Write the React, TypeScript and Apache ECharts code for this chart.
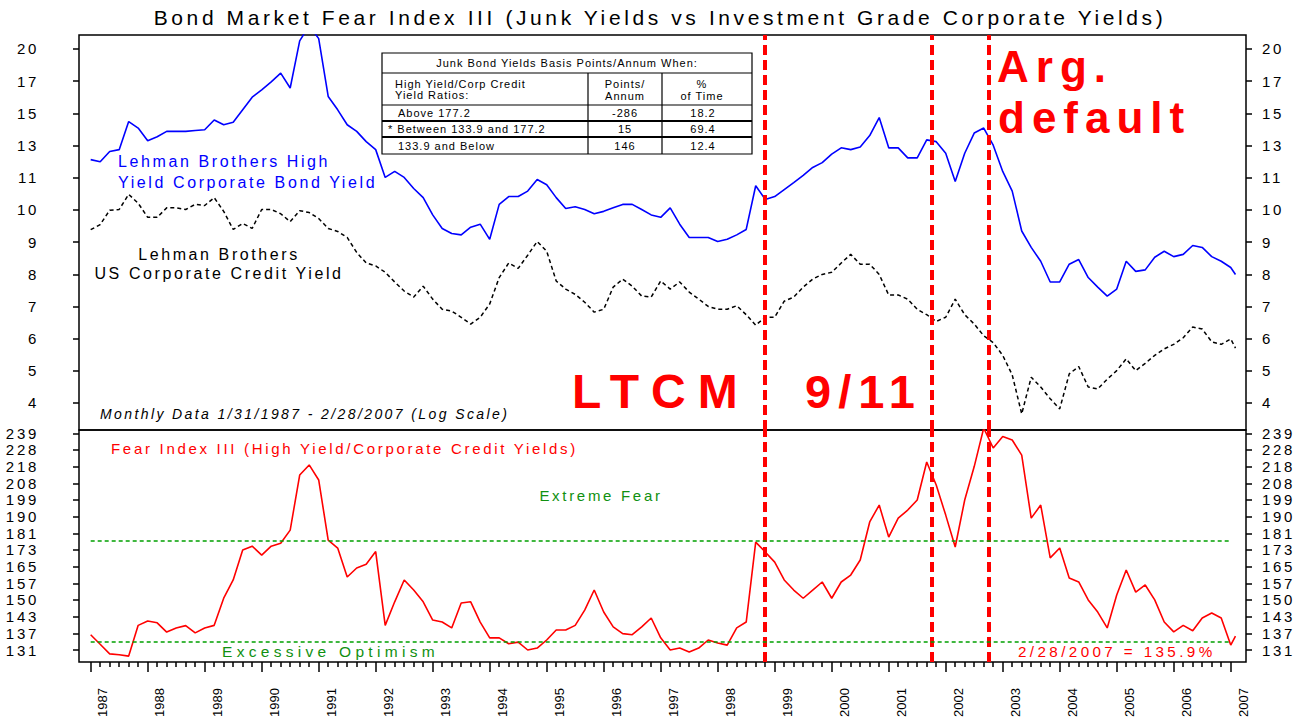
import React, { useEffect, useRef } from 'react';
import * as echarts from 'echarts';

const FONT = '"Liberation Sans", Arial, Helvetica, sans-serif';

// month-end samples (every second month) from Jan 1987 to Feb 2007
const dates: string[] = [];
for (let y = 1987; y <= 2006; y++) for (let mo = 1; mo <= 11; mo += 2) dates.push(`${y}-${String(mo).padStart(2, '0')}`);
dates.push('2007-01', '2007-02');

// Lehman Brothers High Yield Corporate Bond Yield (%)
const highYield = [
  12.41, 12.3, 12.85, 12.95, 14.6, 14.2,
  13.45, 13.68, 14.0, 14.0, 14.0, 14.05,
  14.1, 14.7, 14.4, 14.55, 15.35, 16.2,
  16.72, 17.3, 17.95, 16.85, 20.6, 22.0,
  20.8, 16.25, 15.35, 14.4, 14.0, 13.4,
  12.95, 11.5, 11.8, 11.5, 10.97, 10.55,
  9.8, 9.25, 9.05, 9.0, 9.3, 9.42,
  8.83, 10.25, 10.6, 10.6, 10.85, 11.4,
  11.15, 10.55, 10.07, 10.15, 10.03, 9.85,
  9.95, 10.1, 10.25, 10.25, 10.03, 9.8,
  9.7, 10.1, 9.42, 8.9, 8.9, 8.9,
  8.75, 8.83, 9.0, 9.21, 11.1, 10.47,
  10.6, 10.92, 11.25, 11.6, 12.0, 12.25,
  12.7, 13.05, 12.95, 13.1, 13.75, 14.85,
  13.05, 13.05, 12.5, 12.5, 13.5, 13.4,
  12.75, 11.3, 12.75, 13.9, 14.2, 13.2,
  11.8, 10.85, 9.15, 8.53, 8.04, 7.36,
  7.36, 7.94, 8.1, 7.5, 7.2, 6.93,
  7.14, 8.04, 7.7, 7.75, 8.18, 8.39,
  8.2, 8.28, 8.6, 8.53, 8.2, 8.04,
  7.83, 7.6,
];

// Lehman Brothers US Corporate Credit Yield (%)
const creditYield = [
  9.2, 9.4, 10.0, 10.03, 10.7, 10.3,
  9.7, 9.7, 10.1, 10.1, 10.03, 10.25,
  10.2, 10.55, 9.95, 9.21, 9.45, 9.25,
  10.03, 10.03, 9.85, 9.52, 9.98, 9.9,
  9.65, 9.25, 9.13, 8.9, 8.35, 7.98,
  7.88, 7.67, 7.36, 7.08, 6.9, 7.23,
  6.84, 6.55, 6.5, 6.33, 6.15, 6.33,
  6.7, 7.5, 7.98, 7.8, 8.25, 8.75,
  8.39, 7.39, 7.14, 6.98, 6.75, 6.47,
  6.55, 7.2, 7.45, 7.23, 6.93, 6.9,
  7.39, 7.14, 7.36, 7.05, 6.84, 6.63,
  6.55, 6.55, 6.65, 6.4, 6.12, 6.33,
  6.33, 6.78, 6.9, 7.2, 7.45, 7.6,
  7.67, 7.98, 8.28, 7.94, 7.94, 7.6,
  6.96, 6.96, 6.84, 6.55, 6.4, 6.22,
  6.33, 6.84, 6.4, 6.15, 5.85, 5.68,
  5.38, 4.95, 4.19, 4.9, 4.7, 4.47,
  4.28, 4.97, 5.13, 4.7, 4.66, 4.86,
  5.04, 5.3, 5.04, 5.2, 5.38, 5.53,
  5.64, 5.8, 6.07, 6.02, 5.7, 5.64,
  5.77, 5.55,
];

// Fear Index III = High Yield / Corporate Credit yields (%)
const fearIndex = [
  136.4, 132.8, 129.3, 129, 128.5, 140,
  141.7, 141, 137.4, 139, 139.9, 137.1,
  139, 140, 151, 158.9, 172.7, 174.6,
  170.3, 174.6, 176, 182.6, 212.9, 219,
  210, 177.6, 173.7, 160.2, 164.3, 166,
  172, 140, 149.5, 158.9, 154.5, 149.5,
  142.1, 141.3, 139, 149, 149.5, 141.3,
  135.2, 135.2, 133, 133.6, 130.7, 131.4,
  134.4, 138.2, 138.2, 140, 146.1, 154.5,
  145.3, 139.4, 136.8, 136.4, 139.4, 142.9,
  135.2, 130.7, 131.4, 130, 131.4, 134.4,
  133.3, 132.5, 139, 141.3, 176.6, 171.8,
  167, 158.9, 154.5, 151, 154.5, 158,
  151, 158, 161.1, 168, 186.8, 195.8,
  179.1, 188.8, 193.1, 198.6, 220.8, 207.1,
  190.4, 174.2, 198.6, 218, 242.7, 229.6,
  237, 234.8, 225.1, 188.8, 195.8, 169,
  173.7, 159.8, 158, 150.3, 145.3, 139,
  152.4, 163.4, 153.6, 156.7, 150.3, 141.3,
  137.5, 140, 137.9, 142.9, 144.9, 142.9,
  132.5, 135.9,
];

const eventDates = ['1998-11', '2001-10', '2002-10'];
const fearLevels = [177.2, 133.9];
const years = Array.from({ length: 21 }, (_, i) => 1987 + i);

// log-scale ticks (evenly spaced), labels are the rounded values
const yieldTicks = [4.39, 5.0366, 5.7786, 6.6297, 7.6063, 8.7267, 10.0121, 11.4869, 13.179, 15.1202, 17.3474, 19.9027];
const fearTicks = [130.7, 136.92, 143.436, 150.262, 157.413, 164.904, 172.752, 180.973, 189.586, 198.608, 208.06, 217.962, 228.335, 239.202];

const TITLE = 'Bond Market Fear Index III (Junk Yields vs Investment Grade Corporate Yields)';
const tableTitle = 'Junk Bond Yields Basis Points/Annum When:';
const tableHead = [['High Yield/Corp Credit', 'Yield Ratios:'], ['Points/', 'Annum'], ['%', 'of Time']];
const tableRows = [
  ['Above 177.2', '-286', '18.2'],
  ['* Between 133.9 and 177.2', '15', '69.4'],
  ['133.9 and Below', '146', '12.4'],
];

const toX = (d: string) => {
  const [y, m] = d.split('-').map(Number);
  return y + (m - 1) / 12;
};

const X_MIN = 1986.795;
const X_MAX = 2007.268;

const spacing: Record<string, string> = {
  '21px': '3.6px', '16px': '2.6px', '15px': '2.7px', '15.5px': '4.3px', '15.2px': '3.4px', '14px': '2.4px', '13px': '0px',
  '11px': '1px', '48px': '12px', '47px': '7px', '44px': '7px',
};
const css = Object.entries(spacing)
  .map(([s, ls]) => `#fc text[style*=" ${s}"], #fc text[style*=":${s}"] { letter-spacing: ${ls}; }`)
  .join('\n');

function txt(text: string, x: number, y: number, size: number, fill: string, align = 'left', extra: any = {}) {
  return {
    type: 'text', x, y, silent: true, z: 100,
    style: { text, fill, fontSize: size, fontFamily: FONT, align, verticalAlign: 'middle', ...extra },
  };
}
function hline(x1: number, x2: number, y: number, w = 1) {
  return { type: 'line', silent: true, z: 100, shape: { x1, y1: y, x2, y2: y }, style: { stroke: '#000', lineWidth: w } };
}
function vline(x: number, y1: number, y2: number, w = 1) {
  return { type: 'line', silent: true, z: 100, shape: { x1: x, y1, x2: x, y2 }, style: { stroke: '#000', lineWidth: w } };
}

function buildOption() {
  const axisColor = '#000';
  const red = '#ff0000';
  const green = '#00a000';
  const greenText = '#109010';
  const yLabel = (margin: number) => ({
    margin, fontSize: 15, color: '#000', fontFamily: FONT,
    formatter: (v: number) => String(Math.round(v)),
  });
  const yAxisCommon = (grid: number, pos: string, min: number, max: number, ticks: number[]) => ({
    gridIndex: grid, type: 'log', position: pos, min, max,
    axisLine: { show: false },
    axisTick: { show: true, customValues: ticks, length: 6, lineStyle: { color: axisColor, width: 1.5 } },
    axisLabel: { ...yLabel(pos === 'left' ? 40 : 16), customValues: ticks },
    splitLine: { show: false },
  });

  const eventLine = (d: string) => ({
    xAxis: toX(d),
    lineStyle: { color: red, width: 4, type: [10, 5] },
  });
  const greenStyle = { color: green, width: 1.5, type: [4, 3], opacity: 1 };

  const table: any[] = [];
  const TL = 382, TR = 752, TT = 53, TB = 154;
  table.push({ type: 'rect', silent: true, z: 99, shape: { x: TL, y: TT, width: TR - TL, height: TB - TT }, style: { fill: '#fff', stroke: '#000', lineWidth: 1.2 } });
  table.push(hline(TL, TR, 73, 1.2), hline(TL, TR, 105, 1.2), hline(TL, TR, 121, 2), hline(TL, TR, 137, 2));
  table.push(vline(588, 73, TB, 1.2), vline(662, 73, TB, 1.2));
  table.push(txt(tableTitle, 567, 63, 11, '#000', 'center'));
  table.push(txt(tableHead[0][0], 395, 84, 11, '#000'), txt(tableHead[0][1], 395, 95, 11, '#000'));
  table.push(txt(tableHead[1][0], 625, 84, 11, '#000', 'center'), txt(tableHead[1][1], 625, 96, 11, '#000', 'center'));
  table.push(txt(tableHead[2][0], 702, 84, 11, '#000', 'center'), txt(tableHead[2][1], 702, 96, 11, '#000', 'center'));
  const rowY = [113, 129, 146];
  tableRows.forEach((r, i) => {
    table.push(txt(r[0], r[0].startsWith('*') ? 388 : 398, rowY[i], 11, '#000'));
    table.push(txt(r[1], 625, rowY[i], 11, '#000', 'center'));
    table.push(txt(r[2], 703, rowY[i], 11, '#000', 'center'));
  });

  const graphic = [
    txt(TITLE, 660, 17, 21, '#000', 'center'),
    txt('Lehman Brothers High', 118, 161, 16, '#0000ff'),
    txt('Yield Corporate Bond Yield', 118, 182, 16, '#0000ff'),
    txt('Lehman Brothers', 219, 254, 16, '#000', 'center'),
    txt('US Corporate Credit Yield', 219, 273, 16, '#000', 'center'),
    txt('Monthly Data 1/31/1987 - 2/28/2007 (Log Scale)', 100, 414, 14, '#000', 'left', { fontStyle: 'italic' }),
    txt('Fear Index III (High Yield/Corporate Credit Yields)', 111, 448, 15, red),
    txt('Extreme Fear', 601, 495, 15, greenText, 'center'),
    txt('Excessive Optimism', 222, 651, 15.5, greenText),
    txt('2/28/2007 = 135.9%', 1018, 651, 15.2, red),
    txt('LTCM', 572, 391, 48, red, 'left', { fontWeight: 'bold' }),
    txt('9/11', 805, 391, 47, red, 'left', { fontWeight: 'bold' }),
    txt('Arg.', 997, 66, 44, red, 'left', { fontWeight: 'bold' }),
    txt('default', 998, 117, 44, red, 'left', { fontWeight: 'bold' }),
    ...table,
  ];

  const minorTicks: number[] = [];
  years.slice(0, -1).forEach((y) => { for (let k = 1; k < 6; k++) minorTicks.push(y + k / 6); });

  return {
    animation: false,
    backgroundColor: '#fff',
    textStyle: { fontFamily: FONT },
    grid: [
      { left: 79, right: 51, top: 35, height: 395, show: true, borderColor: '#000', borderWidth: 1.5, backgroundColor: 'transparent' },
      { left: 79, right: 51, top: 430, height: 232, show: true, borderColor: '#000', borderWidth: 1.5, backgroundColor: 'transparent' },
    ],
    xAxis: [
      { gridIndex: 0, type: 'value', min: X_MIN, max: X_MAX, axisLine: { show: false }, axisTick: { show: false }, axisLabel: { show: false }, splitLine: { show: false } },
      {
        gridIndex: 1, type: 'value', min: X_MIN, max: X_MAX, position: 'bottom',
        axisLine: { show: false },
        axisTick: { show: true, customValues: years, length: 10, lineStyle: { color: axisColor, width: 1.5 } },
        axisLabel: { customValues: years.map((y) => y + 0.216), rotate: 90, margin: 26, fontSize: 13, color: '#000', fontFamily: FONT, formatter: (v: number) => String(Math.floor(v)) },
        splitLine: { show: false },
      },
      {
        gridIndex: 1, type: 'value', min: X_MIN, max: X_MAX, position: 'bottom',
        axisLine: { show: false },
        axisTick: { show: true, customValues: minorTicks, length: 5, lineStyle: { color: axisColor, width: 1.5 } },
        axisLabel: { show: false }, splitLine: { show: false },
      },
    ],
    yAxis: [
      yAxisCommon(0, 'left', 3.9117, 21.127, yieldTicks),
      yAxisCommon(0, 'right', 3.9117, 21.127, yieldTicks),
      yAxisCommon(1, 'left', 126.4, 241.41, fearTicks),
      yAxisCommon(1, 'right', 126.4, 241.41, fearTicks),
    ],
    series: [
      {
        name: 'Lehman Brothers High Yield Corporate Bond Yield', type: 'line', xAxisIndex: 0, yAxisIndex: 0,
        data: dates.map((d, i) => [toX(d), highYield[i]]), symbol: 'none',
        lineStyle: { color: '#0000ff', width: 1.6 }, z: 3,
        markLine: {
          silent: true, symbol: ['none', 'none'], label: { show: false }, animation: false,
          data: eventDates.map(eventLine),
        },
      },
      {
        name: 'Lehman Brothers US Corporate Credit Yield', type: 'line', xAxisIndex: 0, yAxisIndex: 0,
        data: dates.map((d, i) => [toX(d), creditYield[i]]), symbol: 'none',
        lineStyle: { color: '#000', width: 1.5, type: [4, 3] }, z: 2,
      },
      {
        name: 'Fear Index III', type: 'line', xAxisIndex: 1, yAxisIndex: 2,
        data: dates.map((d, i) => [toX(d), fearIndex[i]]), symbol: 'none',
        lineStyle: { color: red, width: 1.6 }, z: 3,
        markLine: {
          silent: true, symbol: ['none', 'none'], label: { show: false }, animation: false,
          data: [
            ...eventDates.map(eventLine),
            ...fearLevels.map((lvl) => [
              { coord: [toX(dates[0]), lvl], lineStyle: greenStyle, itemStyle: { color: green } },
              { coord: [toX('2007-01'), lvl], lineStyle: greenStyle, itemStyle: { color: green } },
            ]),
          ],
        },
      },
    ],
    graphic,
  };
}

export default function App() {
  const ref = useRef<HTMLDivElement>(null);
  useEffect(() => {
    const chart = echarts.init(ref.current!, undefined, { renderer: 'svg' });
    chart.setOption(buildOption() as any);
    return () => chart.dispose();
  }, []);
  return (
    <>
      <style>{css}</style>
      <div id="fc" ref={ref} style={{ position: 'absolute', left: 0, top: 0, width: 1297, height: 720, background: '#fff' }} />
    </>
  );
}
